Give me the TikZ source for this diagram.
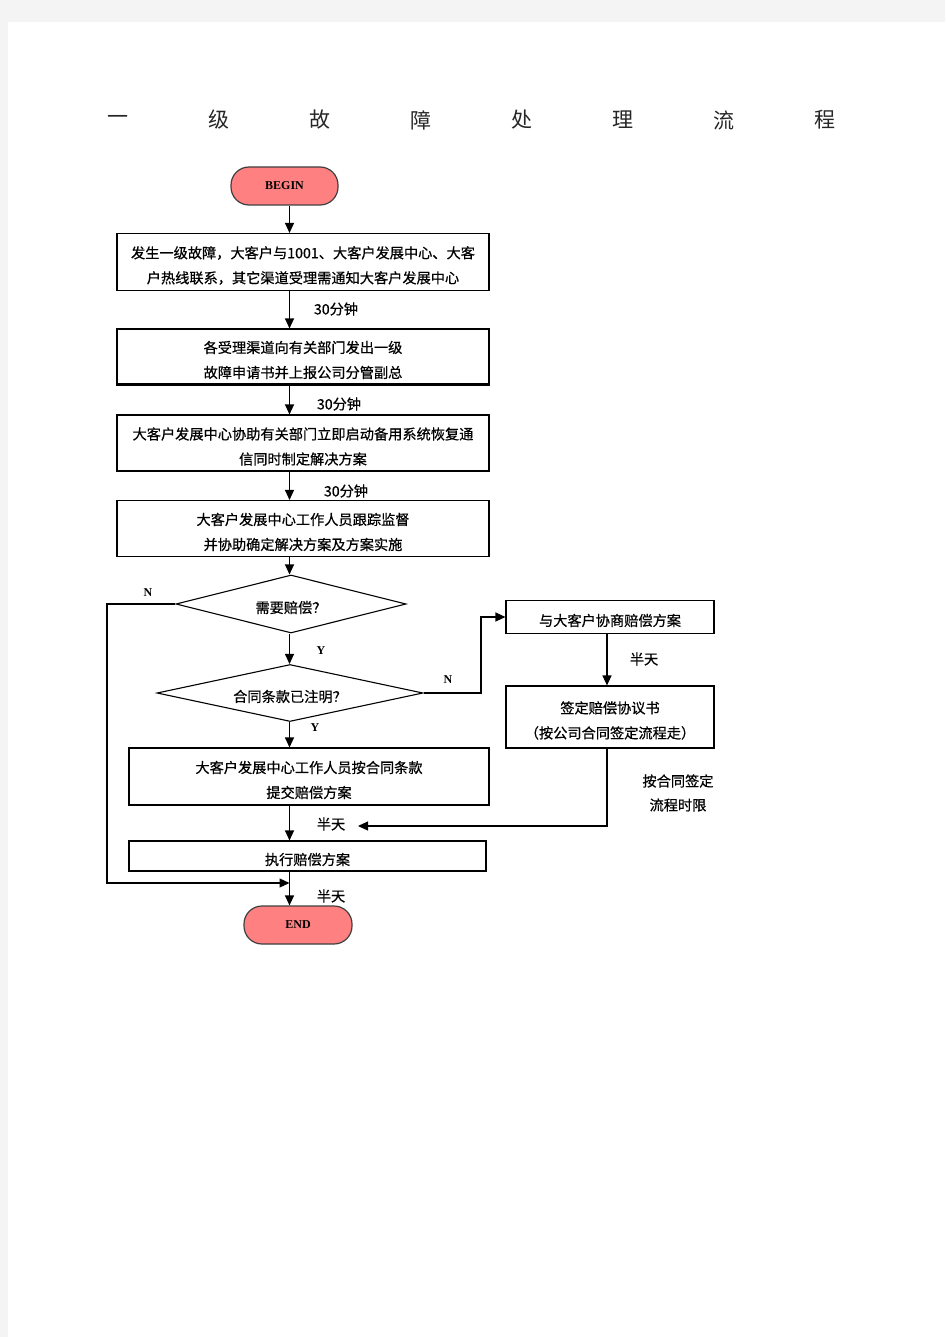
\documentclass[tikz,border=0pt]{standalone}
\usepackage{fontspec}
\setmainfont{Liberation Serif}
\newfontfamily\cjk[FakeBold=0.6]{Noto Sans CJK SC}
\newfontfamily\cjkthin{Noto Sans CJK SC}
\usetikzlibrary{arrows.meta,shapes.geometric}
\definecolor{pagegray}{HTML}{F4F4F4}
\definecolor{termfill}{HTML}{FF8080}
\definecolor{termline}{HTML}{404040}
\newcommand\cjktext{\cjk\fontsize{14.2}{25}\selectfont}
\begin{document}
\begin{tikzpicture}[x=1pt,y=-1pt,
  textdown/.style={execute at begin node={\rule{0pt}{#1}}},
  textdown/.default=19pt,
  procbox/.style={draw=black,line width=1.1pt,inner sep=0pt,align=center,font=\cjktext,textdown},
  twoline/.style={textdown=44pt},
  term/.style={draw=termline,fill=termfill,line width=1.2pt,rounded corners=18pt,inner sep=0pt,font=\bfseries\fontsize{12}{12}\selectfont},
  decision/.style={diamond,draw=black,line width=1.1pt,inner sep=0pt,shape aspect=4,font=\cjktext,textdown},
  arr/.style={-{Triangle[length=10pt,width=9pt]},line width=1.2pt},
  lbl/.style={inner sep=0pt,font=\cjktext},
  yn/.style={inner sep=0pt,font=\bfseries\fontsize{12}{12}\selectfont},
  titlech/.style={inner sep=0pt,text=black!85,font=\cjkthin\fontsize{21}{21}\selectfont}]
\fill[pagegray] (0,0) rectangle (945,1337);
\fill[white] (8,22) rectangle (945,1337);
\useasboundingbox (0,0) rectangle (945,1337);

% title
\foreach \c [count=\i] in {一,级,故,障,处,理,流,程}
  \node[titlech] (ttl\i) at (17+101*\i,120) {\c};

% nodes
\node[term, minimum width=107pt, minimum height=38pt] (begin) at (284.5,186) {BEGIN};
\node[procbox, twoline, minimum width=372pt, minimum height=57pt] (b1) at (303,262)
  {发生一级故障，大客户与1001、大客户发展中心、大客\\户热线联系，其它渠道受理需通知大客户发展中心};
\node[procbox, twoline, minimum width=372pt, minimum height=55pt] (b2) at (303,356.5)
  {各受理渠道向有关部门发出一级\\故障申请书并上报公司分管副总};
\node[procbox, twoline, minimum width=372pt, minimum height=56pt] (b3) at (303,443)
  {大客户发展中心协助有关部门立即启动备用系统恢复通\\信同时制定解决方案};
\node[procbox, twoline, minimum width=372pt, minimum height=56pt] (b4) at (303,528.5)
  {大客户发展中心工作人员跟踪监督\\并协助确定解决方案及方案实施};
\node[decision, minimum width=230pt, minimum height=58pt] (d1) at (291,604) {需要赔偿？};
\node[decision, minimum width=266pt, minimum height=57pt] (d2) at (290,693) {合同条款已注明？};
\node[procbox, minimum width=208pt, minimum height=33pt] (b5) at (610,617) {与大客户协商赔偿方案};
\node[procbox, twoline, minimum width=208pt, minimum height=62pt] (b7) at (610,717)
  {签定赔偿协议书\\（按公司合同签定流程走）};
\node[procbox, twoline, minimum width=360pt, minimum height=57pt] (b6) at (309,776.5)
  {大客户发展中心工作人员按合同条款\\提交赔偿方案};
\node[procbox, minimum width=357pt, minimum height=30pt] (b8) at (307.5,856) {执行赔偿方案};
\node[term, minimum width=108pt, minimum height=38pt] (end) at (298,925) {END};
\draw[line width=2pt] (b2.south west) -- (b2.south east);

% labels
\node[lbl] (l1) at (336,309) {30分钟};
\node[lbl] (l2) at (339,404) {30分钟};
\node[lbl] (l3) at (346,491) {30分钟};
\node[yn] (y1) at (321,651) {Y};
\node[yn] (y2) at (315,728) {Y};
\node[yn] (n1) at (148,593) {N};
\node[yn] (n2) at (448,680) {N};
\node[lbl] (h1) at (644,659) {半天};
\node[lbl] (h2) at (331,824) {半天};
\node[lbl] (h3) at (331,896) {半天};
\node[lbl] (k1) at (678,781) {按合同签定};
\node[lbl] (k2) at (678,805) {流程时限};

% connectors
\coordinate (sp) at (289.5,0);
\coordinate (lx) at (107,0);
\coordinate (rx) at (481,0);
\coordinate (cx) at (607,0);
\coordinate (jn) at (289.5,883);
\coordinate (rt) at (358,826);
\draw[arr] (sp |- begin.south) -- (sp |- b1.north);
\draw[arr] (sp |- b1.south) -- (sp |- b2.north);
\draw[arr] (sp |- b2.south) -- (sp |- b3.north);
\draw[arr] (sp |- b3.south) -- (sp |- b4.north);
\draw[arr] (sp |- b4.south) -- (sp |- d1.north);
\draw[arr] (sp |- d1.south) -- (sp |- d2.north);
\draw[arr] (sp |- d2.south) -- (sp |- b6.north);
\draw[arr] (sp |- b6.south) -- (sp |- b8.north);
\draw[arr] (sp |- b8.south) -- (sp |- end.north);
\draw[arr] (d1.west) -- (lx |- d1.west) -- (lx |- jn) -- (jn);
\draw[arr] (d2.east) -- (rx |- d2.east) -- (rx |- b5.west) -- (b5.west);
\draw[arr] (cx |- b5.south) -- (cx |- b7.north);
\draw[arr] (cx |- b7.south) -- (cx |- rt) -- (rt);
\end{tikzpicture}
\end{document}
